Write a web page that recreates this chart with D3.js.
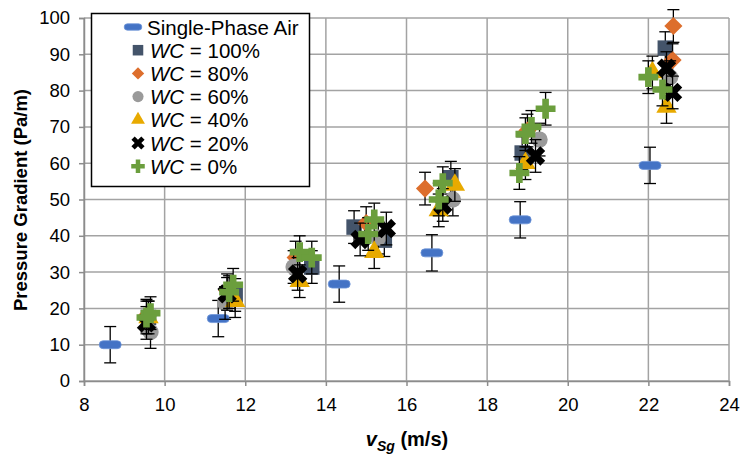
<!DOCTYPE html>
<html>
<head>
<meta charset="utf-8">
<script src="https://cdn.jsdelivr.net/npm/d3@7"></script>
<style>
body { margin: 0; background: #fff; }
svg { font-family: "Liberation Sans", Arial, sans-serif; }
</style>
</head>
<body>
<svg width="741" height="460"></svg>
<script>
"use strict"

// values
var xTicks = [8, 10, 12, 14, 16, 18, 20, 22, 24];
var yTicks = [0, 10, 20, 30, 40, 50, 60, 70, 80, 90, 100];

var air_v = [8.65, 11.33, 14.33, 16.63, 18.82, 22.04];
var air_p = [10, 17.2, 26.7, 35.3, 44.4, 59.4];

var wc100_v = [9.6, 11.75, 13.65, 14.7, 15.45, 17.1, 18.87, 22.42];
var wc100_p = [17.5, 23.7, 31.4, 42.4, 38.8, 56, 62.8, 91.7];

var wc80_v = [9.55, 11.55, 13.25, 15.0, 16.46, 19.0, 22.62, 22.6];
var wc80_p = [18, 25, 34, 43.5, 53, 69, 97.8, 88.4];

var wc60_v = [9.65, 11.5, 13.2, 15.3, 17.15, 19.3, 22.54];
var wc60_p = [13.5, 21.5, 31.4, 39.5, 50, 66.5, 83.7];

var wc40_v = [9.6, 11.75, 13.35, 15.2, 17.2, 16.8, 18.95, 22.1, 22.45];
var wc40_p = [17.5, 22, 27.5, 35.5, 54, 47, 60, 85, 75.5];

var wc20_v = [9.55, 11.55, 13.3, 15.5, 14.85, 16.9, 19.2, 22.45, 22.6];
var wc20_p = [16, 24, 29.5, 42, 39, 48.5, 62, 86.2, 79.5];

var wc0_v = [9.65, 9.55, 11.7, 11.6, 13.35, 13.65, 15.2, 15.05, 16.9, 16.8, 19.45, 19.1, 18.95, 18.8, 22.0, 22.35];
var wc0_p = [18.7, 17.5, 26.5, 24.5, 35.5, 34, 44.5, 40.5, 54.5, 50, 75, 70, 68, 57.3, 83.7, 80.3];

var airErr = 5;
var wcErr = 4.5;

var names = ["Single-Phase Air", "100%", "80%", "60%", "40%", "20%", "0%"];

var series = [
	{ name: names[0], v: air_v, p: air_p, err: airErr, mark: "dash",     color: "#4473c5" },
	{ name: names[1], v: wc100_v, p: wc100_p, err: wcErr, mark: "square",  color: "#44546a" },
	{ name: names[2], v: wc80_v, p: wc80_p, err: wcErr, mark: "diamond",   color: "#dd6e2c" },
	{ name: names[3], v: wc60_v, p: wc60_p, err: wcErr, mark: "circle",    color: "#9a9a9a" },
	{ name: names[4], v: wc40_v, p: wc40_p, err: wcErr, mark: "triangle",  color: "#e8aa00" },
	{ name: names[5], v: wc20_v, p: wc20_p, err: wcErr, mark: "x",         color: "#000000" },
	{ name: names[6], v: wc0_v, p: wc0_p, err: wcErr, mark: "plus",        color: "#6b9e3d" }
];

var svg = d3.select("svg");
var pLeft = 84, pRight = 729, pTop = 18, pBottom = 381;

var x = d3.scaleLinear().domain([8, 24]).range([pLeft, pRight]);
var y = d3.scaleLinear().domain([0, 100]).range([pBottom, pTop]);

// grid
var grid = svg.append("g");
grid.selectAll(".gx")
	.data(xTicks)
	.enter()
	.append("line")
	.attr("x1", function(d){ return x(d); })
	.attr("x2", function(d){ return x(d); })
	.attr("y1", pTop)
	.attr("y2", pBottom)
	.style("stroke", "#a3a3a3")
	.style("stroke-width", 1.5);
grid.selectAll(".gy")
	.data(yTicks)
	.enter()
	.append("line")
	.attr("x1", pLeft)
	.attr("x2", pRight)
	.attr("y1", function(d){ return y(d); })
	.attr("y2", function(d){ return y(d); })
	.style("stroke", "#a3a3a3")
	.style("stroke-width", 1.5);

// axes
var xAxis = d3.axisBottom(x).tickValues(xTicks).tickSize(5).tickPadding(12);
var yAxis = d3.axisLeft(y).tickValues(yTicks).tickSize(5).tickPadding(9);

var gx = svg.append("g")
	.attr("transform", "translate(0," + pBottom + ")")
	.call(xAxis);
var gy = svg.append("g")
	.attr("transform", "translate(" + pLeft + ",0)")
	.call(yAxis);

[gx, gy].forEach(function(g){
	g.selectAll("path, line").style("stroke", "#8c8c8c").style("stroke-width", 1.5);
	g.selectAll("text")
	 .style("font-family", "'Liberation Sans', Arial, sans-serif")
	 .style("font-size", "18.5px")
	 .style("fill", "#000");
});

// marker paths
function markerPath(mark, scale) {
	var s = scale || 1;
	if (mark === "square")   return d3.symbol(d3.symbolSquare, 240 * s)();
	if (mark === "diamond")  return d3.symbol(d3.symbolSquare, 165 * s)();
	if (mark === "circle")   return d3.symbol(d3.symbolCircle, 210 * s)();
	if (mark === "triangle") return d3.symbol(d3.symbolTriangle, 180 * s)();
	if (mark === "x")        return d3.symbol(d3.symbolCross, 235 * s)();
	if (mark === "plus")     return d3.symbol(d3.symbolCross, 220 * s)();
	return null;
}
function markerRot(mark) {
	return (mark === "diamond" || mark === "x") ? " rotate(45)" : "";
}

function drawMark(g, mark, color, scale) {
	if (mark === "dash") {
		var w = 22 * scale, h = 8 * scale;
		g.append("rect")
		 .attr("x", -w / 2)
		 .attr("y", -h / 2)
		 .attr("width", w)
		 .attr("height", h)
		 .attr("rx", h / 2)
		 .style("fill", color)
		 .style("stroke", "#6f95d8")
		 .style("stroke-width", 0.8);
	} else {
		g.append("path")
		 .attr("d", markerPath(mark, scale * scale))
		 .attr("transform", markerRot(mark))
		 .style("fill", color);
	}
}

// series: error bars then markers, in series order
var plot = svg.append("g");
series.forEach(function(s){
	var pts = s.v.map(function(v, i){ return { v: v, p: s.p[i] }; });
	var g = plot.append("g");
	var eb = g.selectAll(".eb")
		.data(pts)
		.enter()
		.append("g")
		.style("stroke", "#000")
		.style("stroke-width", 1.3);
	eb.append("line")
	  .attr("x1", function(d){ return x(d.v); })
	  .attr("x2", function(d){ return x(d.v); })
	  .attr("y1", function(d){ return y(d.p - s.err); })
	  .attr("y2", function(d){ return y(d.p + s.err); });
	[-1, 1].forEach(function(sign){
		eb.append("line")
		  .attr("x1", function(d){ return x(d.v) - 6; })
		  .attr("x2", function(d){ return x(d.v) + 6; })
		  .attr("y1", function(d){ return y(d.p + sign * s.err); })
		  .attr("y2", function(d){ return y(d.p + sign * s.err); });
	});
	g.selectAll(".mk")
	 .data(pts)
	 .enter()
	 .append("g")
	 .attr("transform", function(d){ return "translate(" + x(d.v) + "," + y(d.p) + ")"; })
	 .each(function(){
	 	drawMark(d3.select(this), s.mark, s.color, 1);
	 });
});

// legend
var lg = svg.append("g");
lg.append("rect")
  .attr("x", 91.5)
  .attr("y", 13.5)
  .attr("width", 218)
  .attr("height", 173)
  .style("fill", "#fff")
  .style("stroke", "#000")
  .style("stroke-width", 1.5);

var rows = lg.selectAll(".row")
	.data(series)
	.enter()
	.append("g")
	.attr("transform", function(d, i){ return "translate(0," + (27 + i * 23.2) + ")"; });

rows.each(function(d){
	var m = d3.select(this).append("g").attr("transform", "translate(" + (d.mark === "dash" ? 133 : 138) + ",0)");
	drawMark(m, d.mark, d.color, d.mark === "dash" ? 0.8 : 0.68);
	var t = d3.select(this).append("text")
		.attr("x", d.mark === "dash" ? 147 : 150)
		.attr("y", 7.5)
		.style("font-size", "20.5px");
	if (d.mark === "dash") {
		t.text(d.name);
	} else {
		t.append("tspan").style("font-style", "italic").text("WC");
		t.append("tspan").text(" = " + d.name);
	}
});

// axis titles
var xt = svg.append("text")
	.attr("x", 407)
	.attr("y", 446)
	.attr("text-anchor", "middle")
	.style("font-size", "20px")
	.style("font-weight", "bold");
xt.append("tspan").style("font-style", "italic").text("v");
xt.append("tspan").style("font-style", "italic").style("font-size", "14px").attr("dy", 5).text("Sg");
xt.append("tspan").attr("dy", -5).text(" (m/s)");

svg.append("text")
	.attr("transform", "translate(27,200) rotate(-90)")
	.attr("text-anchor", "middle")
	.style("font-size", "18.5px")
	.style("font-weight", "bold")
	.text("Pressure Gradient (Pa/m)");
</script>
</body>
</html>
